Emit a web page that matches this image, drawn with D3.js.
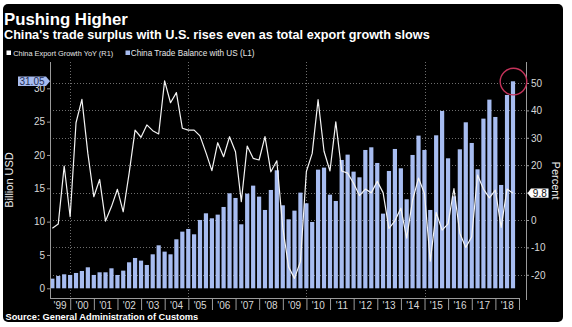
<!DOCTYPE html>
<html>
<head>
<meta charset="utf-8">
<script src="https://cdn.jsdelivr.net/npm/d3@7"></script>
<style>
  body { margin: 0; background: #fff; }
  svg { display: block; font-family: "Liberation Sans", Arial, sans-serif; }
</style>
</head>
<body>
<svg id="chart" width="572" height="327"></svg>
<script>
// China trade balance with the US, billion USD, quarterly (Q1 1999 .. Q3 2018)
const tradeBalance = [
  1.45, 1.85, 2.1, 2.0, 2.3, 2.6, 3.15, 2.0, 2.4, 2.4,
  3.0, 2.0, 2.65, 3.9, 4.55, 4.15, 3.5, 5.1, 6.45, 5.5,
  5.1, 7.35, 8.5, 8.9, 8.1, 10.25, 11.25, 10.5, 11.05, 12.2,
  14.25, 13.55, 9.6, 14.2, 15.4, 13.75, 11.75, 14.75, 17.7, 12.45,
  10.35, 11.65, 14.35, 12.75, 9.95, 17.8, 18.1, 14.05, 13.1, 19.25,
  20.05, 17.5, 16.65, 20.75, 21.15, 18.8, 11.2, 17.6, 20.9, 18.0,
  13.35, 20.0, 22.9, 20.75, 11.75, 22.95, 26.6, 19.5, 13.8, 20.85,
  24.9, 21.8, 17.85, 25.45, 28.3, 25.7, 15.5, 29.0, 31.05
];

// China export growth, year on year, percent (same quarters)
const exportGrowth = [
  -3.0, -1.5, 19.7, 1.2, 35.5, 44.0, 24.3, 8.5, 14.8, -0.4,
  4.9, 11.2, 3.0, 17.0, 32.8, 30.2, 34.7, 32.6, 31.4, 50.8,
  42.8, 46.5, 33.5, 32.8, 32.8, 30.7, 24.6, 18.0, 28.2, 23.1,
  30.4, 24.9, 6.7, 27.0, 22.5, 21.9, 30.4, 17.6, 21.6, -2.8,
  -17.1, -21.3, -15.2, 17.7, 24.3, 43.9, 25.1, 17.9, 35.8, 17.9,
  17.1, 13.4, 8.9, 11.3, 9.9, 14.1, 10.0, -3.1, -0.3, 4.3,
  -6.6, 7.2, 15.3, 9.7, -15.0, 2.8, -3.7, -1.4, 11.5, -4.8,
  -10.0, -6.1, 16.4, 11.3, 8.1, 10.9, -2.7, 11.3, 9.8
];

const leftTicks = [0, 5, 10, 15, 20, 25, 30];
const rightTicks = [-20, -10, 0, 10, 20, 30, 40, 50];
const yearLabels = ["'99", "'00", "'01", "'02", "'03", "'04", "'05", "'06", "'07", "'08",
                    "'09", "'10", "'11", "'12", "'13", "'14", "'15", "'16", "'17", "'18"];
const gridYears = [2000, 2005, 2010, 2015];

// quarter-end dates for each observation
const quarterStarts = d3.timeMonth.range(new Date(1999, 2, 1), new Date(2018, 9, 1), 3);
const dates = quarterStarts.map(d => d3.timeDay.offset(d3.timeMonth.offset(d, 1), -1));

const svg = d3.select("#chart");

const plot = { left: 50, right: 526, top: 62, bottom: 298 };

const x = d3.scaleTime()
  .domain([new Date(1999, 0, 1), new Date(2019, 0, 1)])
  .range([46.6, 519]);
const yL = d3.scaleLinear().domain([0, 30]).range([288.3, 88.3]);
const yR = d3.scaleLinear().domain([0, 50]).range([220, 83]);

const lastBal = tradeBalance[tradeBalance.length - 1];
const lastExp = exportGrowth[exportGrowth.length - 1];

// panel
svg.append("rect")
  .attr("x", 3).attr("y", 4).attr("width", 560).attr("height", 318)
  .attr("rx", 5).attr("fill", "#000");

// text helper: scale a text's font so that it spans a given width
function fitWidth(sel, w) {
  const n = sel.node();
  const fs = parseFloat(sel.attr("font-size"));
  const len = n.getComputedTextLength();
  if (len > 0) sel.attr("font-size", (fs * w / len).toFixed(2));
}

// title block
fitWidth(svg.append("text").attr("x", 4).attr("y", 25)
  .attr("font-size", 17).attr("font-weight", "bold").attr("fill", "#fff")
  .text("Pushing Higher"), 124);
fitWidth(svg.append("text").attr("x", 4).attr("y", 39)
  .attr("font-size", 12.5).attr("font-weight", "bold").attr("fill", "#fff")
  .text("China's trade surplus with U.S. rises even as total export growth slows"), 426);

// legend
const legend = svg.append("g");
legend.append("rect").attr("x", 6.5).attr("y", 50.5).attr("width", 4.5).attr("height", 4.5).attr("fill", "#fff");
fitWidth(legend.append("text").attr("x", 13.3).attr("y", 55.5)
  .attr("font-size", 8).attr("fill", "#e6e6e6")
  .text("China Export Growth YoY  (R1)"), 100);
legend.append("rect").attr("x", 125.5).attr("y", 50.5).attr("width", 4.5).attr("height", 4.5).attr("fill", "#a7bcf0");
fitWidth(legend.append("text").attr("x", 130.8).attr("y", 55.5)
  .attr("font-size", 8).attr("fill", "#e6e6e6")
  .text("China Trade Balance with US (L1)"), 124);

// gridlines
const grid = svg.append("g").attr("stroke", "#6e6e6e").attr("stroke-width", 1).attr("stroke-dasharray", "1,2");
grid.selectAll("line.h").data(rightTicks).join("line")
  .attr("x1", plot.left).attr("x2", plot.right)
  .attr("y1", d => Math.round(yR(d)) + 0.5).attr("y2", d => Math.round(yR(d)) + 0.5);
grid.selectAll("line.v").data(gridYears).join("line")
  .attr("x1", d => Math.round(x(new Date(d, 0, 1))) + 0.5)
  .attr("x2", d => Math.round(x(new Date(d, 0, 1))) + 0.5)
  .attr("y1", plot.top).attr("y2", plot.bottom);

// bars
const barW = 4.2;
svg.append("g").selectAll("rect").data(tradeBalance).join("rect")
  .attr("x", (d, i) => x(dates[i]) - barW / 2)
  .attr("width", barW)
  .attr("y", d => yL(d))
  .attr("height", d => yL(0) - yL(d))
  .attr("fill", "#a7bcf0");

// export growth line
const line = d3.line()
  .x((d, i) => x(dates[i]))
  .y(d => yR(d));
svg.append("path")
  .datum(exportGrowth)
  .attr("d", line)
  .attr("fill", "none")
  .attr("stroke", "#f4f4f4")
  .attr("stroke-width", 1.2)
  .attr("stroke-linejoin", "round");

// axes
const axisColor = "#9a9a9a";
const labelColor = "#d8d8d8";

// tick labels sitting under a last-value tag are left blank
const hiddenLeft = leftTicks.filter(t => Math.abs(yL(t) - yL(lastBal)) < 5);
const hiddenRight = rightTicks.filter(t => Math.abs(yR(t) - yR(lastExp)) < 5);

const gL = svg.append("g").attr("transform", `translate(${plot.left},0)`)
  .call(d3.axisLeft(yL).tickValues(leftTicks).tickSize(3).tickSizeOuter(0).tickPadding(2)
    .tickFormat(d => hiddenLeft.includes(d) ? "" : String(d)));
gL.select(".domain").remove();
gL.append("line").attr("x1", 0.5).attr("x2", 0.5).attr("y1", plot.top).attr("y2", plot.bottom).attr("stroke", axisColor);

const gR = svg.append("g").attr("transform", `translate(${plot.right},0)`)
  .call(d3.axisRight(yR).tickValues(rightTicks).tickSize(3).tickSizeOuter(0).tickPadding(2)
    .tickFormat(d => hiddenRight.includes(d) ? "" : String(d)));
gR.select(".domain").remove();
gR.append("line").attr("x1", 0.5).attr("x2", 0.5).attr("y1", plot.top).attr("y2", plot.bottom + 2).attr("stroke", axisColor);

const yearTicks = d3.range(2000, 2020).map(yv => new Date(yv, 0, 1));
const gX = svg.append("g").attr("transform", `translate(0,${plot.bottom})`)
  .call(d3.axisBottom(x).tickValues(yearTicks).tickSize(12).tickFormat(""));
gX.select(".domain").remove();
gX.append("line").attr("x1", plot.left).attr("x2", x(new Date(2019, 0, 1))).attr("y1", 0.5).attr("y2", 0.5).attr("stroke", axisColor);

[gL, gR, gX].forEach(g => {
  g.selectAll(".tick line").attr("stroke", axisColor);
  g.selectAll(".tick text").attr("fill", labelColor).attr("font-size", 10)
    .attr("font-family", "Liberation Sans, Arial, sans-serif");
});

// year labels centred within each year
svg.append("g").selectAll("text").data(yearLabels).join("text")
  .attr("x", (d, i) => {
    const a = Math.max(plot.left, x(new Date(1999 + i, 0, 1)));
    const b = x(new Date(2000 + i, 0, 1));
    return (a + b) / 2;
  })
  .attr("y", 309)
  .attr("text-anchor", "middle")
  .attr("font-size", 10)
  .attr("fill", labelColor)
  .text(d => d);

// axis titles
svg.append("text")
  .attr("transform", "translate(13,180) rotate(-90)")
  .attr("text-anchor", "middle")
  .attr("font-size", 11).attr("fill", "#eee")
  .text("Billion USD");
svg.append("text")
  .attr("transform", "translate(552,180.5) rotate(90)")
  .attr("text-anchor", "middle")
  .attr("font-size", 11).attr("fill", "#eee")
  .text("Percent");

// last-value tag on the left axis
const ly = yL(lastBal);
svg.append("path")
  .attr("d", `M18,${ly - 4.7} H46 L50,${ly} L46,${ly + 4.7} H18 Z`)
  .attr("fill", "#a7bcf0");
svg.append("text")
  .attr("x", 32).attr("y", ly + 3.6)
  .attr("text-anchor", "middle").attr("font-size", 10).attr("fill", "#1f2d55")
  .text(lastBal.toFixed(2));

// last-value tag on the right axis
const ry = yR(lastExp);
svg.append("path")
  .attr("d", `M527.5,${ry} L531,${ry - 4.6} H548.5 V${ry + 4.6} H531 Z`)
  .attr("fill", "#fff");
svg.append("text")
  .attr("x", 539.8).attr("y", ry + 3.6)
  .attr("text-anchor", "middle").attr("font-size", 10).attr("fill", "#111")
  .text(lastExp.toFixed(1));

// highlight ring on the latest bar
svg.append("circle")
  .attr("cx", x(dates[dates.length - 1]) + 0.5)
  .attr("cy", yL(lastBal) + 0.3)
  .attr("r", 13.3)
  .attr("fill", "none")
  .attr("stroke", "#c4335a")
  .attr("stroke-width", 1.4);

// source
fitWidth(svg.append("text").attr("x", 5.5).attr("y", 320)
  .attr("font-size", 9).attr("font-weight", "bold").attr("fill", "#fff")
  .text("Source: General Administration of Customs"), 193);
</script>
</body>
</html>
